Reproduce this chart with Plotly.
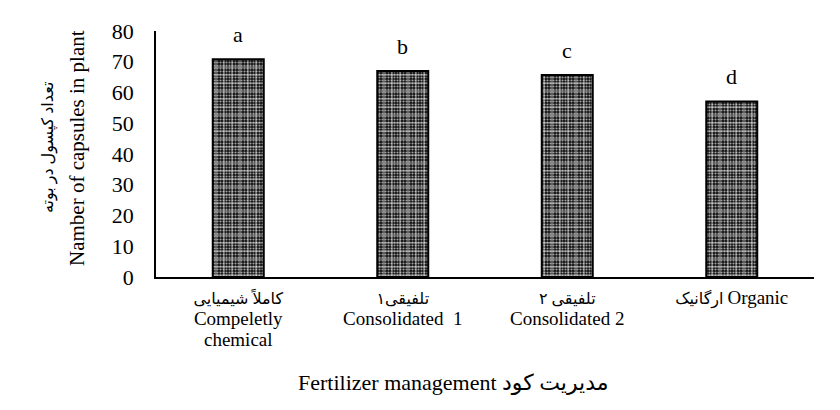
import plotly.graph_objects as go

categories_fa = ["کاملاً شیمیایی", "تلفیقی۱", "تلفیقی ۲", "ارگانیک"]
categories_en = ["Compeletly<br>chemical", "Consolidated  1", "Consolidated 2", "Organic"]
capsules = [70.8, 67.0, 65.7, 57.1]
letters = ["a", "b", "c", "d"]
y_ticks = [0, 10, 20, 30, 40, 50, 60, 70, 80]

FONT = "Liberation Serif, DejaVu Sans"

ticktext = []
for fa, en in zip(categories_fa, categories_en):
    if en == "Organic":
        ticktext.append(f'{fa} <span style="font-size:19px">{en}</span>')
    else:
        parts = en.split("<br>")
        en_html = "<br>".join(f'<span style="font-size:19px">{p}</span>' for p in parts)
        ticktext.append(f"{fa}<br>{en_html}")

x = list(range(len(capsules)))

fig = go.Figure()
fig.add_trace(go.Bar(
    x=x, y=capsules, width=0.31,
    marker=dict(color="black",
                pattern=dict(shape=".", size=3, solidity=0.4,
                             fgcolor="#a0a0a0", bgcolor="#111111", fillmode="replace"),
                line=dict(width=0)),
    hoverinfo="skip", showlegend=False,
))
fig.add_trace(go.Bar(
    x=x, y=capsules, width=0.31,
    marker=dict(color="rgba(0,0,0,0)",
                pattern=dict(shape="+", size=8, solidity=0.14,
                             fgcolor="white", bgcolor="rgba(0,0,0,0)", fillmode="replace"),
                line=dict(width=2, color="black")),
    showlegend=False,
))

for xi, v, l in zip(x, capsules, letters):
    fig.add_annotation(x=xi, y=v, text=l, showarrow=False, yanchor="bottom", yshift=10,
                       font=dict(family=FONT, size=22, color="black"))

# y axis titles
fig.add_annotation(xref="paper", yref="paper", x=0, y=0.5, xshift=-108, yshift=6,
                   xanchor="center", yanchor="middle",
                   text="تعداد کپسول در بوته", textangle=-90, showarrow=False,
                   font=dict(family=FONT, size=16, color="black"))
fig.add_annotation(xref="paper", yref="paper", x=0, y=0.5, xshift=-79, yshift=6,
                   xanchor="center", yanchor="middle",
                   text="Namber of capsules in plant", textangle=-90, showarrow=False,
                   font=dict(family=FONT, size=21, color="black"))
# x axis title
fig.add_annotation(xref="paper", yref="paper", x=0.5, y=0, xshift=-32, yshift=-105,
                   xanchor="center", yanchor="middle",
                   text="Fertilizer management مدیریت کود", showarrow=False,
                   font=dict(family=FONT, size=22, color="black"))

fig.update_layout(
    width=840, height=410,
    margin=dict(l=148, r=34, t=23, b=141),
    plot_bgcolor="white", paper_bgcolor="white",
    barmode="overlay",
    font=dict(family=FONT, color="black"),
)
fig.update_xaxes(
    range=[-0.5, 3.5], tickvals=x, ticktext=ticktext,
    tickfont=dict(family=FONT, size=16, color="black"),
    showline=True, linecolor="black", linewidth=1.5, showgrid=False,
    ticks="", ticklabelstandoff=6, zeroline=False,
)
fig.update_yaxes(
    range=[0, 80], tickvals=y_ticks,
    tickfont=dict(family=FONT, size=22, color="black"),
    showline=True, linecolor="black", linewidth=1.5, showgrid=False,
    ticks="", ticklabelstandoff=16, zeroline=False,
)

fig.write_html("out.html")
